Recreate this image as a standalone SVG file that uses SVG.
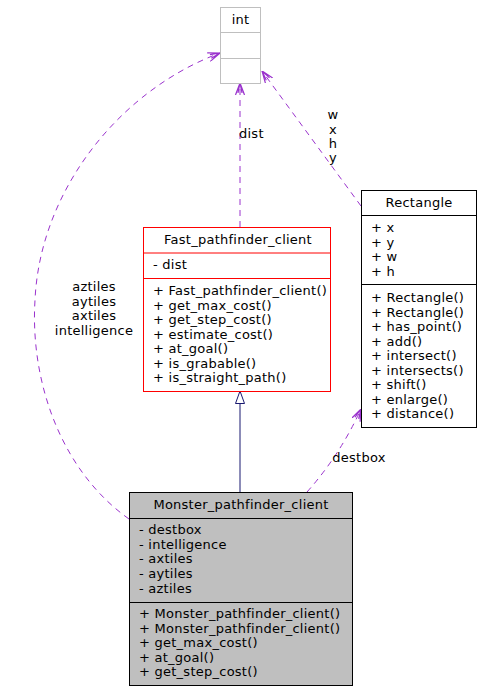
<svg xmlns="http://www.w3.org/2000/svg" width="481" height="691" viewBox="0 0 481 691">
<style>
text{font-family:"DejaVu Sans","Liberation Sans",sans-serif;font-size:13px;letter-spacing:0.25px;fill:#000}
.c{text-anchor:middle}
.box{fill:#fff;stroke:#000;stroke-width:1}
.use{fill:none;stroke:#9a32cd;stroke-width:1;stroke-dasharray:6,5}
</style>
<defs>
<marker id="vee" markerUnits="userSpaceOnUse" viewBox="0 0 12 10" refX="12" refY="5" markerWidth="12" markerHeight="10" orient="auto">
<path d="M0,0.5 L12,5 L0,9.5 M2,3 L12,5 L2,7" fill="none" stroke="#9a32cd" stroke-width="1.2"/>
</marker>
</defs>
<rect width="481" height="691" fill="#fff"/>
<g id="connectors">
<path d="M240,492 V403" fill="none" stroke="#191970"/>
<polygon points="240,391 235.5,403.5 244.5,403.5" fill="#fff" stroke="#191970"/>
<path class="use" d="M240,227 V83" marker-end="url(#vee)"/>
<text x="239" y="138">dist</text>
<path class="use" d="M361,206 L262,71" marker-end="url(#vee)"/>
<text class="c" x="333" y="119">w</text>
<text class="c" x="333" y="134">x</text>
<text class="c" x="333" y="148">h</text>
<text class="c" x="333" y="162">y</text>
<path class="use" d="M129,519 C60,470 30,380 35,300 C40,190 120,90 220,53" marker-end="url(#vee)"/>
<text class="c" x="94" y="291">aztiles</text>
<text class="c" x="94" y="306">aytiles</text>
<text class="c" x="94" y="320">axtiles</text>
<text class="c" x="94" y="335">intelligence</text>
<path class="use" d="M307,492 Q340,455 361,409" marker-end="url(#vee)"/>
<text class="c" x="359" y="462">destbox</text>
</g>
<g id="int">
<rect x="220.5" y="7.5" width="40" height="76" fill="#fff" stroke="#bfbfbf"/>
<path d="M220.5,32.5 H260.5 M220.5,58.5 H260.5" stroke="#bfbfbf"/>
<text class="c" x="240.5" y="24">int</text>
</g>
<g id="Fast_pathfinder_client">
<rect x="143.5" y="227.5" width="187" height="164" fill="#fff" stroke="#ff0000"/>
<path d="M143.5,253 H330.5 M143.5,278.5 H330.5" stroke="#ff0000"/>
<text class="c" x="238" y="244">Fast_pathfinder_client</text>
<text x="153" y="269">- dist</text>
<text x="153" y="295">+ Fast_pathfinder_client()</text>
<text x="153" y="309.5">+ get_max_cost()</text>
<text x="153" y="324">+ get_step_cost()</text>
<text x="153" y="338.5">+ estimate_cost()</text>
<text x="153" y="353">+ at_goal()</text>
<text x="153" y="367.5">+ is_grabable()</text>
<text x="153" y="382">+ is_straight_path()</text>
</g>
<g id="Rectangle">
<rect class="box" x="361.5" y="190.5" width="115" height="237"/>
<path d="M361.5,215.5 H476.5 M361.5,284.5 H476.5" stroke="#000"/>
<text class="c" x="419" y="207">Rectangle</text>
<text x="371" y="232">+ x</text>
<text x="371" y="246.5">+ y</text>
<text x="371" y="261">+ w</text>
<text x="371" y="275.5">+ h</text>
<text x="371" y="302">+ Rectangle()</text>
<text x="371" y="316.5">+ Rectangle()</text>
<text x="371" y="331">+ has_point()</text>
<text x="371" y="345.5">+ add()</text>
<text x="371" y="360">+ intersect()</text>
<text x="371" y="374.5">+ intersects()</text>
<text x="371" y="389">+ shift()</text>
<text x="371" y="403.5">+ enlarge()</text>
<text x="371" y="418">+ distance()</text>
</g>
<g id="Monster_pathfinder_client">
<rect x="129.5" y="492.5" width="223" height="193" fill="#bfbfbf" stroke="#000"/>
<path d="M129.5,518.5 H352.5 M129.5,602.5 H352.5" stroke="#000"/>
<text class="c" x="241" y="509">Monster_pathfinder_client</text>
<text x="139" y="534">- destbox</text>
<text x="139" y="548.7">- intelligence</text>
<text x="139" y="563.4">- axtiles</text>
<text x="139" y="578.1">- aytiles</text>
<text x="139" y="592.8">- aztiles</text>
<text x="139" y="618">+ Monster_pathfinder_client()</text>
<text x="139" y="632.6">+ Monster_pathfinder_client()</text>
<text x="139" y="647.2">+ get_max_cost()</text>
<text x="139" y="661.8">+ at_goal()</text>
<text x="139" y="676.4">+ get_step_cost()</text>
</g>
</svg>
